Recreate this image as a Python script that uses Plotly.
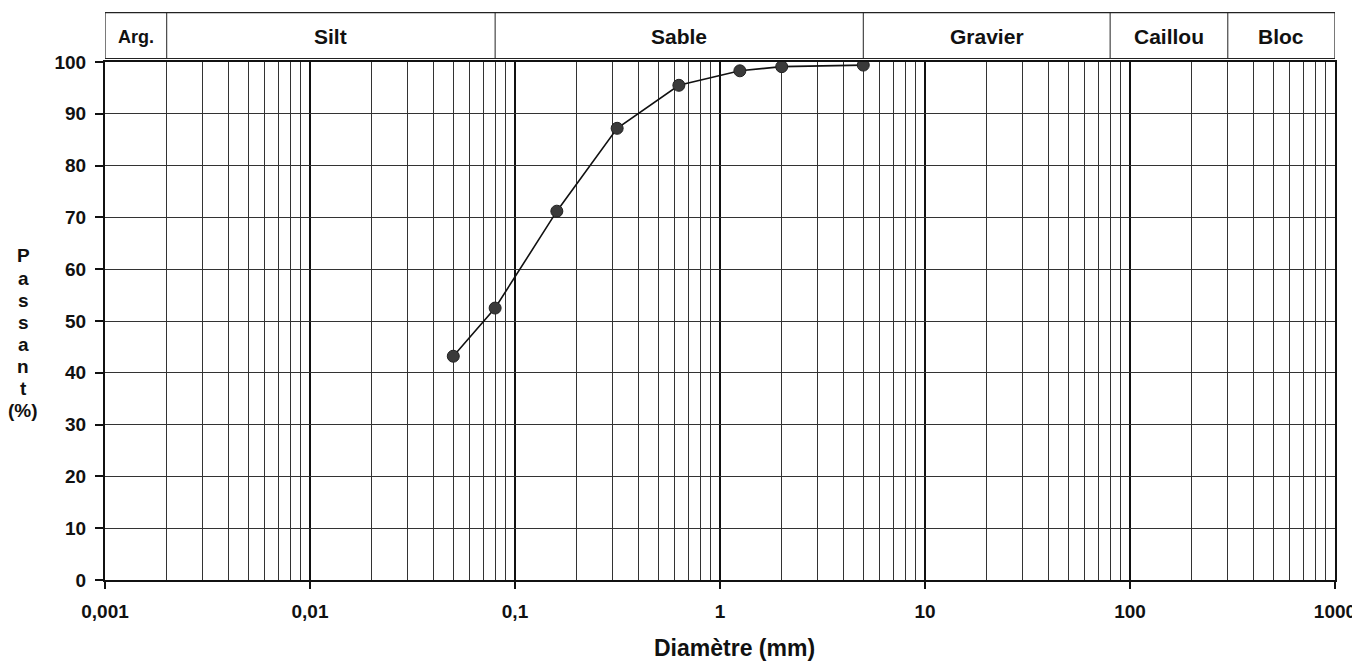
import math
import plotly.graph_objects as go

# Data
diam_mm = [0.05, 0.08, 0.16, 0.315, 0.63, 1.25, 2, 5]
passant = [43.2, 52.5, 71.2, 87.2, 95.5, 98.3, 99.1, 99.4]

x_tickvals = [0.001, 0.01, 0.1, 1, 10, 100, 1000]
x_ticktext = ["0,001", "0,01", "0,1", "1", "10", "100", "1000"]
y_tickvals = [0, 10, 20, 30, 40, 50, 60, 70, 80, 90, 100]

class_names = ["Arg.", "Silt", "Sable", "Gravier", "Caillou", "Bloc"]
class_bounds = [0.001, 0.002, 0.08, 5, 80, 300, 1000]

y_label_chars = ["P", "a", "s", "s", "a", "n", "t", "(%)"]

minor_vals = [m * d for d in [0.001, 0.01, 0.1, 1, 10, 100] for m in range(2, 10)]

FONT = "Liberation Sans, Arial, sans-serif"
PLOT_H = 518

fig = go.Figure()
fig.add_trace(go.Scatter(
    x=diam_mm, y=passant, mode="lines+markers",
    line=dict(color="#111111", width=1.6),
    marker=dict(size=12, color="#3a3a3a", line=dict(color="#222222", width=1)),
    showlegend=False,
))

# Classification table above the plot
y0, y1 = 1.0068, 1.0955
shapes = [dict(type="rect", xref="x", yref="paper", x0=class_bounds[0], x1=class_bounds[-1],
               y0=y0, y1=y1, line=dict(color="#222", width=1.2), fillcolor="rgba(0,0,0,0)")]
annotations = []
for i, name in enumerate(class_names):
    a, b = class_bounds[i], class_bounds[i + 1]
    if i > 0:
        shapes.append(dict(type="line", xref="x", yref="paper", x0=a, x1=a, y0=y0, y1=y1,
                           line=dict(color="#222", width=1)))
    xc = (math.log10(a) + math.log10(b)) / 2
    annotations.append(dict(x=xc, xref="x", yref="paper", y=(y0 + y1) / 2 - 0.002,
                            xanchor="center", yanchor="middle",
                            text=name, showarrow=False,
                            font=dict(family=FONT, size=18 if name == "Arg." else 21,
                                      color="#111", weight="bold")))

# Vertical stacked y-axis label
for k, ch in enumerate(y_label_chars):
    ypix = 194 + 22.1 * k  # distance from plot top (px)
    annotations.append(dict(xref="paper", yref="paper", x=-0.0665,
                            y=1 - ypix / PLOT_H,
                            text=ch, showarrow=False,
                            xanchor="center", yanchor="middle",
                            font=dict(family=FONT, size=19, color="#111", weight="bold")))

annotations.append(dict(xref="paper", yref="paper", x=0.5115, y=-0.1305,
                        text="Diamètre (mm)", showarrow=False,
                        xanchor="center", yanchor="middle",
                        font=dict(family=FONT, size=23, color="#111", weight="bold")))

fig.update_layout(
    width=1352, height=653,
    margin=dict(l=97, r=25, t=54, b=81, autoexpand=False),
    paper_bgcolor="white", plot_bgcolor="white",
    shapes=shapes, annotations=annotations,
    xaxis=dict(
        type="log", range=[-3, 3], automargin=False,
        tickmode="array", tickvals=x_tickvals, ticktext=x_ticktext,
        ticks="outside", ticklen=7, tickwidth=1.5, tickcolor="#111",
        ticklabelstandoff=6,
        showgrid=True, gridcolor="#111", gridwidth=2,
        showline=True, linecolor="#111", linewidth=1.5, mirror=True,
        tickfont=dict(family=FONT, size=19, color="#111", weight="bold"),
        minor=dict(tickmode="array", tickvals=minor_vals, showgrid=True,
                   gridcolor="#333", gridwidth=1, ticks=""),
        zeroline=False,
    ),
    yaxis=dict(
        range=[0, 100], tickmode="array", tickvals=y_tickvals, automargin=False,
        ticks="outside", ticklen=8, tickwidth=1.5, tickcolor="#111",
        ticklabelstandoff=5,
        showgrid=True, gridcolor="#333", gridwidth=1,
        showline=True, linecolor="#111", linewidth=2, mirror=True,
        tickfont=dict(family=FONT, size=19, color="#111", weight="bold"),
        zeroline=False,
    ),
)

fig.write_html("out.html")
